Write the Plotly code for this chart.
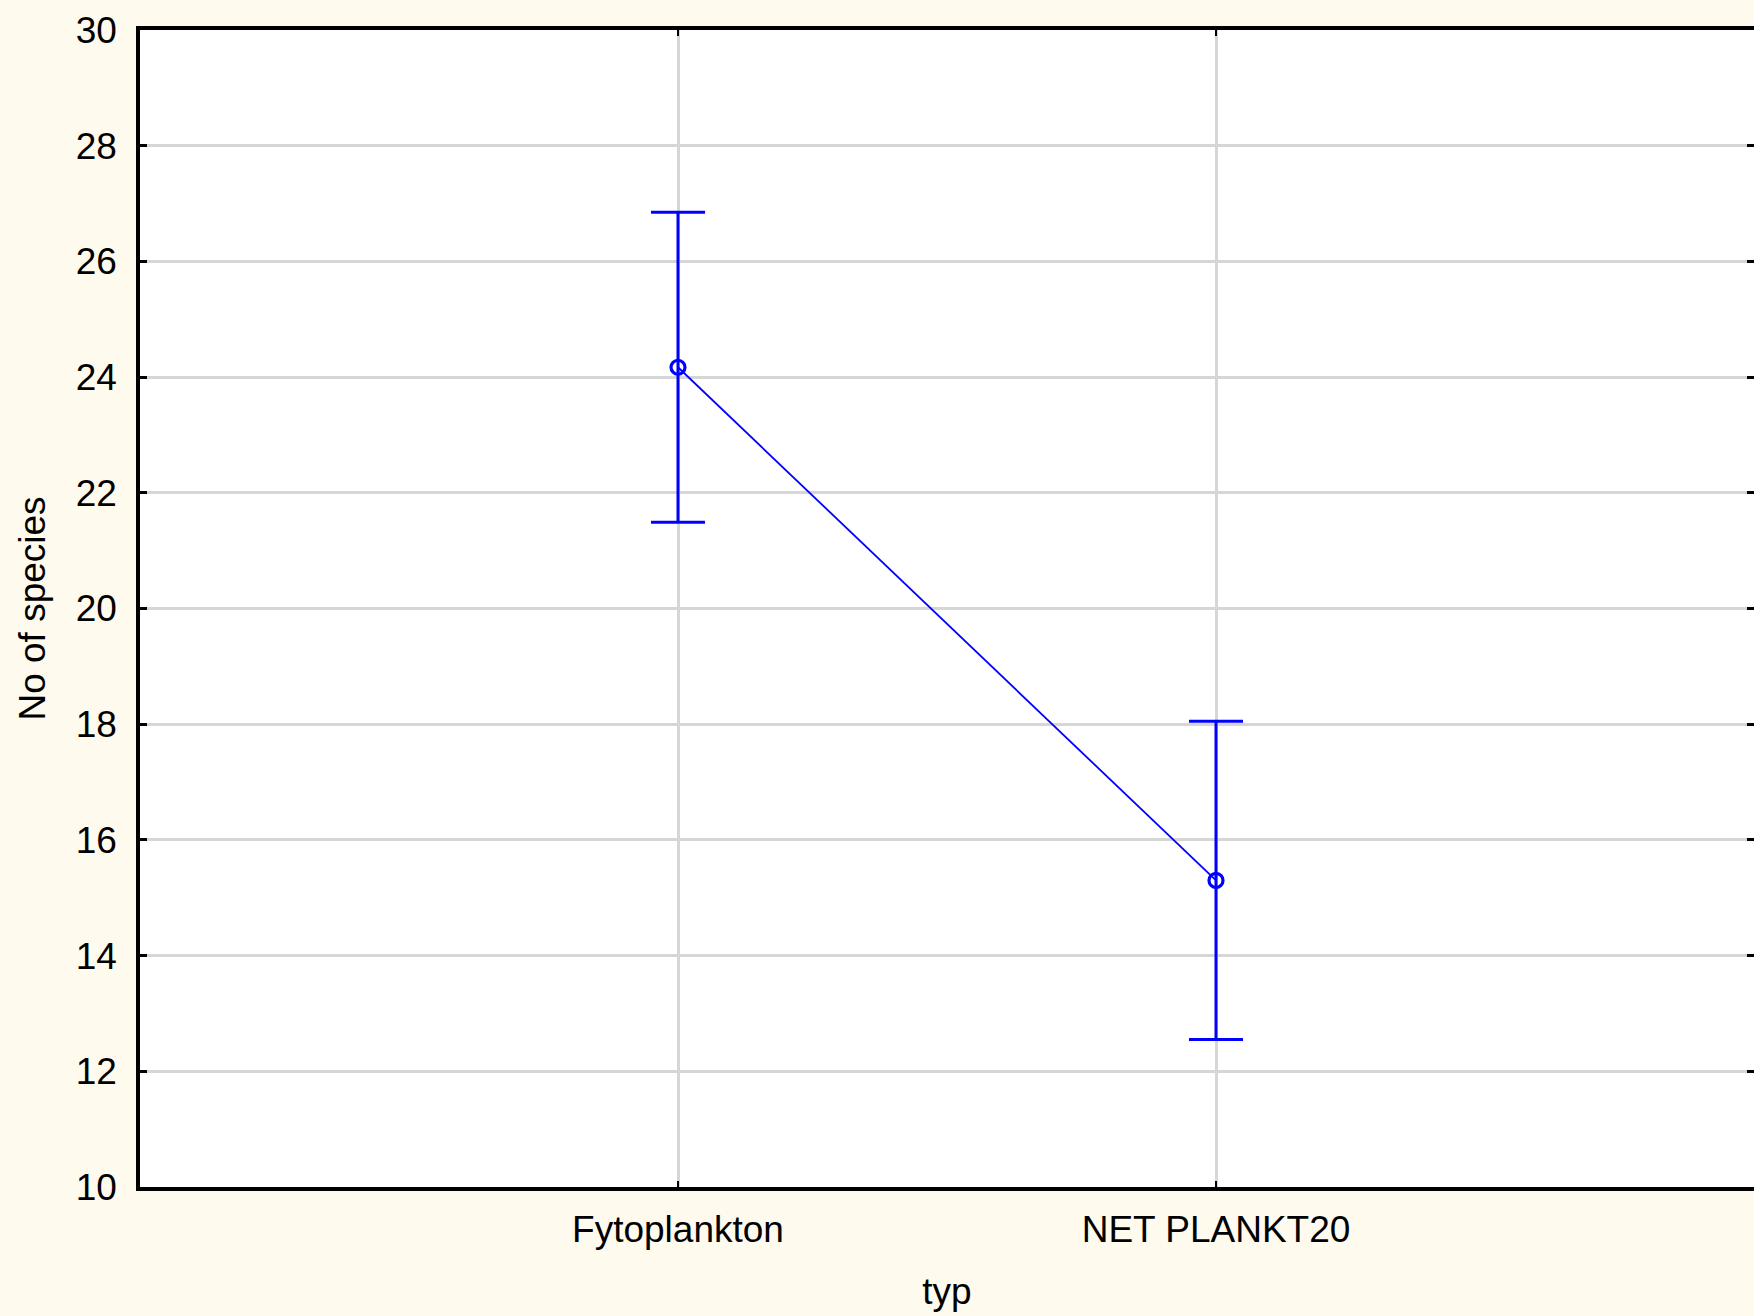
import plotly.graph_objects as go

categories = ["Fytoplankton", "NET PLANKT20"]
means = [24.17, 15.30]
err_plus = [2.68, 2.75]
err_minus = [2.68, 2.75]

y_ticks = [10, 12, 14, 16, 18, 20, 22, 24, 26, 28, 30]

BLUE = "#0000FF"
FONT = "Liberation Sans, Arial, sans-serif"

fig = go.Figure()
fig.add_trace(go.Scatter(
    x=[0, 1], y=means,
    mode="lines+markers",
    line=dict(color=BLUE, width=1.8),
    marker=dict(symbol="circle-open", size=14, color=BLUE, line=dict(width=3.2, color=BLUE)),
    error_y=dict(type="data", symmetric=False, array=err_plus, arrayminus=err_minus,
                 color=BLUE, thickness=3, width=27),
    showlegend=False, hoverinfo="skip",
))
# invisible trace for the right-side mirrored tick axis
fig.add_trace(go.Scatter(x=[0, 1], y=means, yaxis="y2", mode="markers",
                         marker=dict(opacity=0), showlegend=False, hoverinfo="skip"))

fig.update_layout(
    width=1754, height=1316,
    margin=dict(l=140, r=0, t=30, b=129),
    paper_bgcolor="#FFFAEE",
    plot_bgcolor="#FFFFFF",
    font=dict(family=FONT, size=37, color="#000000"),
    xaxis=dict(
        range=[-1, 2], tickmode="array", tickvals=[0, 1], ticktext=categories,
        showgrid=True, gridcolor="#D6D6D6", gridwidth=2.5,
        showline=True, linecolor="#000000", linewidth=3.5, mirror="ticks",
        ticks="inside", ticklen=6, tickcolor="#000000", tickwidth=2,
        zeroline=False, ticklabelstandoff=7,
        title=dict(text="typ", standoff=30, font=dict(size=37)),
        tickfont=dict(size=37),
    ),
    yaxis=dict(
        range=[10, 30], tickmode="array", tickvals=y_ticks,
        showgrid=True, gridcolor="#D6D6D6", gridwidth=2.5,
        showline=True, linecolor="#000000", linewidth=3.5, mirror=False,
        ticks="inside", ticklen=7, tickcolor="#000000", tickwidth=2.5,
        zeroline=False, ticklabelstandoff=12,
        title=dict(text="No of species", standoff=20, font=dict(size=37)),
        tickfont=dict(size=37),
    ),
    yaxis2=dict(
        range=[10, 30], tickmode="array", tickvals=y_ticks,
        overlaying="y", side="right", showgrid=False, showline=False,
        ticks="inside", ticklen=7, tickcolor="#000000", tickwidth=2.5,
        showticklabels=False, zeroline=False,
    ),
)

fig.write_html("out.html")
